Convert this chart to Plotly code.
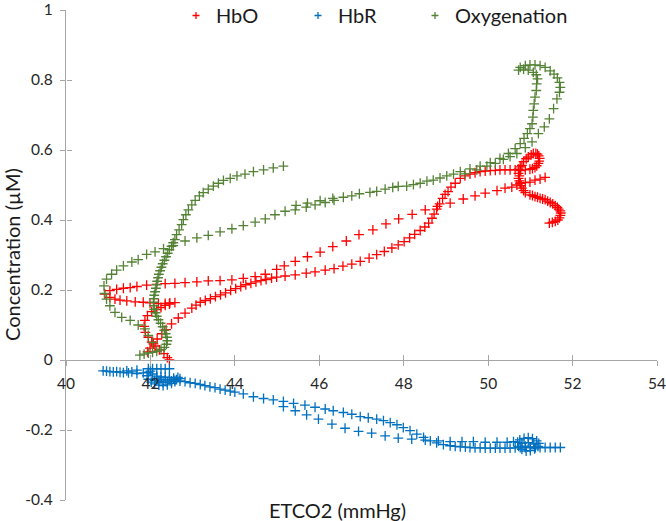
import plotly.graph_objects as go

# ---------------- data ----------------
hbo_etco2 = [
    42.45, 42.40, 42.32, 42.21, 42.11, 42.03, 41.95, 41.88, 41.85, 41.87, 41.93, 42.03, 42.15, 42.25, 42.35, 42.45,
    40.92, 41.04, 41.16, 41.28, 41.44, 41.64, 41.83, 41.99, 42.19, 42.35, 42.46, 42.58,
    41.04, 41.20, 41.36, 41.52, 41.68, 41.91, 42.15, 42.35, 42.58, 42.82, 43.10, 43.37, 43.65, 43.93, 44.20, 44.48,
    44.72, 44.99, 45.17, 45.43, 45.72, 46.02, 46.32, 46.64, 46.94, 47.27, 47.58, 47.88, 48.20, 48.51, 48.80, 49.10,
    49.41, 49.69, 49.93, 50.21, 50.40, 50.56, 50.68, 50.76, 50.88, 50.99, 51.11, 51.23, 51.35,
    41.93, 41.99, 42.07, 42.16, 42.27, 42.37, 42.50, 42.66, 42.82, 42.98, 43.08, 43.18, 43.30, 43.42, 43.54, 43.66,
    43.78, 43.90, 44.02, 44.14, 44.26, 44.38, 44.50, 44.62, 44.74, 44.87, 44.99, 45.19, 45.43, 45.69, 45.90, 46.14,
    46.35, 46.56, 46.77, 46.97, 47.18, 47.36, 47.54, 47.72, 47.87, 48.01, 48.14, 48.26, 48.39, 48.50, 48.59, 48.67,
    48.72, 48.78, 48.85, 48.92, 48.98, 49.05, 49.12, 49.22, 49.34, 49.45, 49.57, 49.69, 49.81, 49.93, 50.05, 50.17,
    50.28, 50.40, 50.52, 50.64, 50.72,
    50.76, 50.84, 50.95, 51.07, 51.17, 51.22, 51.19, 51.11, 50.99, 50.88, 50.77, 50.72, 50.72, 50.76, 50.80, 50.88,
    50.99, 51.11, 51.23, 51.35, 51.47, 51.59, 51.67, 51.72, 51.69, 51.59, 51.45,
    50.80, 50.90, 51.02, 51.13, 51.20, 51.21, 51.15, 51.05, 50.74, 50.74, 50.78, 50.84, 51.05, 51.17, 51.29, 51.41,
    51.53, 51.64, 51.71, 51.71, 51.65, 51.52,
]
hbo_conc = [
    0.000, 0.007, 0.018, 0.029, 0.040, 0.051, 0.065, 0.079, 0.096, 0.113, 0.127, 0.138, 0.144, 0.150, 0.156, 0.160,
    0.188, 0.179, 0.174, 0.171, 0.169, 0.166, 0.165, 0.163, 0.161, 0.162, 0.163, 0.164,
    0.198, 0.202, 0.205, 0.207, 0.210, 0.214, 0.216, 0.218, 0.219, 0.221, 0.223, 0.226, 0.227, 0.229, 0.233, 0.238,
    0.245, 0.259, 0.269, 0.282, 0.295, 0.308, 0.324, 0.340, 0.358, 0.372, 0.389, 0.403, 0.416, 0.429, 0.439, 0.448,
    0.460, 0.469, 0.477, 0.484, 0.491, 0.494, 0.500, 0.505, 0.507, 0.508, 0.514, 0.517, 0.522,
    0.023, 0.034, 0.046, 0.060, 0.075, 0.087, 0.103, 0.120, 0.134, 0.148, 0.157, 0.165, 0.170, 0.175, 0.181, 0.186,
    0.192, 0.199, 0.204, 0.210, 0.215, 0.219, 0.223, 0.227, 0.230, 0.234, 0.237, 0.240, 0.243, 0.248, 0.252, 0.257,
    0.261, 0.268, 0.274, 0.282, 0.291, 0.301, 0.310, 0.320, 0.329, 0.338, 0.349, 0.359, 0.370, 0.380, 0.391, 0.405,
    0.417, 0.431, 0.446, 0.462, 0.473, 0.481, 0.494, 0.505, 0.519, 0.526, 0.531, 0.535, 0.538, 0.540, 0.541, 0.542,
    0.543, 0.543, 0.543, 0.543, 0.545,
    0.552, 0.567, 0.580, 0.590, 0.588, 0.576, 0.562, 0.550, 0.545, 0.543, 0.541, 0.533, 0.519, 0.505, 0.491, 0.478,
    0.472, 0.467, 0.462, 0.458, 0.450, 0.441, 0.431, 0.420, 0.406, 0.396, 0.391,
    0.556, 0.575, 0.586, 0.590, 0.583, 0.568, 0.555, 0.547, 0.526, 0.512, 0.498, 0.484, 0.470, 0.465, 0.460, 0.454,
    0.446, 0.436, 0.426, 0.413, 0.400, 0.393,
]

hbr_etco2 = [
    40.88, 40.96, 41.04, 41.12, 41.20, 41.28, 41.36, 41.44, 41.48, 41.56, 41.68, 41.68, 41.83,
    41.95, 42.05, 42.15, 42.25, 42.35, 42.45,
    41.95, 41.92, 41.95, 42.02, 42.10, 42.20, 42.30, 42.40, 42.50, 42.58, 42.62, 42.55, 42.45, 42.35, 42.25, 42.15,
    42.05, 42.00, 42.10, 42.20, 42.30, 42.40, 42.50, 42.15, 42.25, 42.35, 42.45, 42.65, 42.70,
    42.58, 42.70, 42.82, 42.94, 43.06, 43.18, 43.29, 43.41, 43.53, 43.65, 43.77, 43.89, 44.00, 44.20, 44.44, 44.68,
    44.91, 45.15, 45.39, 45.66, 45.90, 46.14, 46.33, 46.57, 46.77, 46.97, 47.16, 47.36, 47.52, 47.68, 47.84, 47.99,
    48.15, 48.31, 48.47, 48.63, 48.78, 48.94, 49.10, 49.22, 49.34, 49.46, 49.57, 49.69, 49.81, 49.93, 50.05, 50.17,
    50.28, 50.40, 50.52, 50.64, 50.76, 50.88, 51.00, 51.12, 51.23, 51.35, 51.47, 51.59, 51.71,
    45.15, 45.43, 45.70, 45.98, 46.30, 46.61, 46.93, 47.24, 47.56, 47.87, 48.19, 48.51, 48.82, 49.10, 49.38, 49.65,
    49.93, 50.21, 50.45, 50.60,
    50.70, 50.75, 50.85, 50.95, 51.05, 51.15, 51.20, 51.18, 51.10, 51.00, 50.90, 50.80, 50.72, 50.80, 50.95, 51.08,
    51.00, 50.88,
]
hbr_conc = [
    -0.031, -0.032, -0.033, -0.034, -0.033, -0.035, -0.036, -0.031, -0.037, -0.034, -0.039, -0.029, -0.037,
    -0.025, -0.025, -0.025, -0.025, -0.025, -0.025,
    -0.035, -0.045, -0.055, -0.063, -0.068, -0.072, -0.073, -0.071, -0.067, -0.062, -0.056, -0.052, -0.050, -0.049,
    -0.048, -0.046, -0.040, -0.032, -0.058, -0.062, -0.064, -0.063, -0.060, -0.052, -0.056, -0.057, -0.056, -0.050,
    -0.053,
    -0.058, -0.060, -0.062, -0.065, -0.067, -0.070, -0.073, -0.077, -0.079, -0.083, -0.086, -0.089, -0.092, -0.097,
    -0.105, -0.110, -0.114, -0.118, -0.124, -0.129, -0.135, -0.140, -0.145, -0.150, -0.155, -0.162, -0.165, -0.169,
    -0.173, -0.179, -0.185, -0.193, -0.202, -0.212, -0.221, -0.231, -0.237, -0.242, -0.245, -0.247, -0.248, -0.249,
    -0.250, -0.251, -0.251, -0.252, -0.252, -0.252, -0.252, -0.252, -0.252, -0.251, -0.250, -0.250, -0.250, -0.250,
    -0.250, -0.250, -0.250, -0.250, -0.250,
    -0.133, -0.145, -0.157, -0.169, -0.183, -0.195, -0.204, -0.209, -0.217, -0.223, -0.226, -0.229, -0.231, -0.233,
    -0.233, -0.233, -0.235, -0.235, -0.235, -0.233,
    -0.235, -0.228, -0.224, -0.222, -0.225, -0.231, -0.238, -0.247, -0.254, -0.259, -0.260, -0.255, -0.247, -0.238,
    -0.236, -0.240, -0.248, -0.246,
]

oxy_etco2 = [
    41.75, 41.85, 41.95, 42.05, 42.15, 42.25, 42.33, 42.38, 42.40, 42.39, 42.36, 42.33, 42.29, 42.24, 42.19, 42.15,
    42.12, 42.09, 42.08, 42.07, 42.08, 42.09, 42.11, 42.13, 42.14, 42.16, 42.18, 42.20, 42.23, 42.26, 42.29, 42.33,
    42.37, 42.41, 42.45, 42.50, 42.54, 42.58, 42.62, 42.68, 42.74, 42.78, 42.84, 42.90, 42.98, 43.06, 43.16, 43.25,
    43.37, 43.49, 43.61, 43.73, 43.89, 44.05, 44.24, 44.44, 44.68, 44.91, 45.15,
    42.05, 41.95, 41.87, 41.71, 41.52, 41.32, 41.16, 41.04, 40.96, 40.91, 40.90, 40.96, 41.08, 41.20, 41.36, 41.56,
    41.71, 41.91, 42.11, 42.31, 42.54, 42.82, 43.10, 43.37, 43.65, 43.93, 44.20, 44.48, 44.72, 44.95, 45.19, 45.43,
    45.69, 45.90, 46.14, 46.35, 45.45, 45.72, 46.02, 46.32,
    46.57, 46.77, 46.95, 47.20, 47.36, 47.56, 47.74, 47.87, 48.07, 48.23, 48.39, 48.55, 48.70, 48.86, 49.02, 49.18,
    49.34, 49.57, 49.81, 50.05, 50.28, 50.48, 50.64, 50.76, 50.85, 50.93, 50.99, 51.04, 51.06, 51.07, 51.09, 51.11,
    51.14, 51.15, 51.17, 51.14, 51.07, 50.95, 50.84, 50.72,
    50.76, 50.88, 50.99, 51.11, 51.23, 51.35, 51.47, 51.56, 51.64, 51.69, 51.71, 51.69, 51.63, 51.55, 51.45, 51.33,
    51.19, 51.04, 50.88, 50.68, 50.52, 50.36, 50.17, 49.97, 49.73, 49.45,
]
oxy_conc = [
    0.014, 0.017, 0.020, 0.022, 0.025, 0.030, 0.036, 0.045, 0.055, 0.065, 0.075, 0.085, 0.095, 0.105, 0.115, 0.125,
    0.135, 0.145, 0.155, 0.165, 0.175, 0.185, 0.195, 0.205, 0.215, 0.225, 0.235, 0.245, 0.255, 0.265, 0.275, 0.285,
    0.295, 0.305, 0.315, 0.325, 0.335, 0.344, 0.358, 0.372, 0.387, 0.401, 0.415, 0.429, 0.443, 0.456, 0.469, 0.478,
    0.488, 0.497, 0.505, 0.513, 0.519, 0.526, 0.531, 0.538, 0.543, 0.549, 0.554,
    0.050, 0.070, 0.089, 0.100, 0.113, 0.122, 0.136, 0.155, 0.174, 0.190, 0.212, 0.231, 0.245, 0.257, 0.269, 0.280,
    0.287, 0.302, 0.309, 0.318, 0.327, 0.340, 0.349, 0.356, 0.366, 0.375, 0.384, 0.394, 0.403, 0.415, 0.425, 0.429,
    0.437, 0.443, 0.450, 0.456, 0.442, 0.448, 0.455, 0.462,
    0.465, 0.469, 0.475, 0.479, 0.482, 0.488, 0.493, 0.496, 0.497, 0.501, 0.505, 0.511, 0.514, 0.520, 0.526, 0.531,
    0.538, 0.546, 0.554, 0.564, 0.576, 0.590, 0.604, 0.618, 0.633, 0.647, 0.661, 0.675, 0.694, 0.713, 0.732, 0.751,
    0.770, 0.789, 0.803, 0.815, 0.822, 0.828, 0.831, 0.828,
    0.836, 0.841, 0.843, 0.843, 0.841, 0.836, 0.826, 0.817, 0.806, 0.793, 0.779, 0.765, 0.746, 0.718, 0.689, 0.666,
    0.647, 0.623, 0.607, 0.590, 0.581, 0.573, 0.562, 0.554, 0.543, 0.532,
]

series_names = ["HbO", "HbR", "Oxygenation"]
series_colors = ["#FF0000", "#0070C0", "#548235"]

x_tick_values = [40, 42, 44, 46, 48, 50, 52, 54]
x_tick_labels = ["40", "42", "44", "46", "48", "50", "52", "54"]
y_tick_values = [-0.4, -0.2, 0, 0.2, 0.4, 0.6, 0.8, 1]
y_tick_labels = ["-0.4", "-0.2", "0", "0.2", "0.4", "0.6", "0.8", "1"]

x_title = "ETCO2 (mmHg)"
y_title = "Concentration (µM)"

# ---------------- figure ----------------
FONT = "Lato, 'Open Sans', sans-serif"
AXIS_COLOR = "#A6A6A6"
TEXT_COLOR = "#262626"
L, R, T, B = 66, 9, 10, 21
W, H = 666, 521
PW = W - L - R
PH = H - T - B

fig = go.Figure()
xs = [hbo_etco2, hbr_etco2, oxy_etco2]
ys = [hbo_conc, hbr_conc, oxy_conc]
for name, color, xv, yv in zip(series_names, series_colors, xs, ys):
    fig.add_trace(go.Scatter(
        x=xv, y=yv, mode="markers", name=name, showlegend=False,
        marker=dict(symbol="cross-thin", size=7, color=color,
                    line=dict(color=color, width=1.3)),
    ))
# legend-only entries with small markers, each in its own legend box
legend_ids = ["legend", "legend2", "legend3"]
for name, color, lid in zip(series_names, series_colors, legend_ids):
    fig.add_trace(go.Scatter(
        x=[None], y=[None], mode="markers", name=name, showlegend=True, legend=lid,
        marker=dict(symbol="cross-thin", size=5, color=color,
                    line=dict(color=color, width=1.3)),
    ))
# helper trace for the inner half of the crossing tick marks
fig.add_trace(go.Scatter(x=[None], y=[None], xaxis="x2", yaxis="y2",
                         showlegend=False, hoverinfo="skip"))

x_pos = 0.4 / 1.4


def legend_box(marker_px):
    return dict(
        orientation="h", x=(marker_px - 22 - L) / PW, xanchor="left",
        y=1.0 + 14 / PH, yanchor="top", yref="paper",
        font=dict(size=20, color="#1a1a1a", family=FONT),
        bgcolor="rgba(0,0,0,0)", borderwidth=0,
    )


fig.update_layout(
    width=W, height=H,
    margin=dict(l=L, r=R, t=T, b=B, autoexpand=False),
    paper_bgcolor="white", plot_bgcolor="white",
    font=dict(family=FONT, color=TEXT_COLOR),
    xaxis=dict(
        range=[40, 54], tickvals=x_tick_values, ticktext=x_tick_labels,
        anchor="free", position=x_pos,
        showline=True, linecolor=AXIS_COLOR, linewidth=1.3,
        ticks="outside", ticklen=5, tickwidth=1.3, tickcolor=AXIS_COLOR,
        showgrid=False, zeroline=False, ticklabelstandoff=4,
        ticklabeloverflow="allow",
        tickfont=dict(size=15.5, color=TEXT_COLOR, family=FONT),
    ),
    yaxis=dict(
        range=[-0.4, 1], tickvals=y_tick_values, ticktext=y_tick_labels,
        showline=True, linecolor=AXIS_COLOR, linewidth=1.3,
        ticks="outside", ticklen=5, tickwidth=1.3, tickcolor=AXIS_COLOR,
        showgrid=False, zeroline=False, ticklabelstandoff=4,
        ticklabeloverflow="allow",
        tickfont=dict(size=15.5, color=TEXT_COLOR, family=FONT),
    ),
    xaxis2=dict(
        range=[40, 54], tickvals=x_tick_values, overlaying="x",
        anchor="free", position=x_pos, showline=False,
        ticks="inside", ticklen=5, tickwidth=1.3, tickcolor=AXIS_COLOR,
        showticklabels=False, showgrid=False, zeroline=False,
    ),
    yaxis2=dict(
        range=[-0.4, 1], tickvals=y_tick_values, overlaying="y",
        anchor="free", position=0, side="left", showline=False,
        ticks="inside", ticklen=5, tickwidth=1.3, tickcolor=AXIS_COLOR,
        showticklabels=False, showgrid=False, zeroline=False,
    ),
    legend=legend_box(198),
    legend2=legend_box(320),
    legend3=legend_box(437),
    annotations=[
        dict(text=x_title, xref="paper", yref="paper",
             x=(337 - L) / PW, y=-10 / PH, xanchor="center", yanchor="middle",
             showarrow=False, font=dict(size=20, color="#1a1a1a", family=FONT)),
        dict(text=y_title, xref="paper", yref="paper",
             x=(12 - L) / PW, y=0.5, xanchor="center", yanchor="middle",
             textangle=-90, showarrow=False,
             font=dict(size=20, color="#1a1a1a", family=FONT)),
    ],
)

fig.write_html("out.html", config={"displayModeBar": False},
               post_script="document.body.style.margin='0px';")
